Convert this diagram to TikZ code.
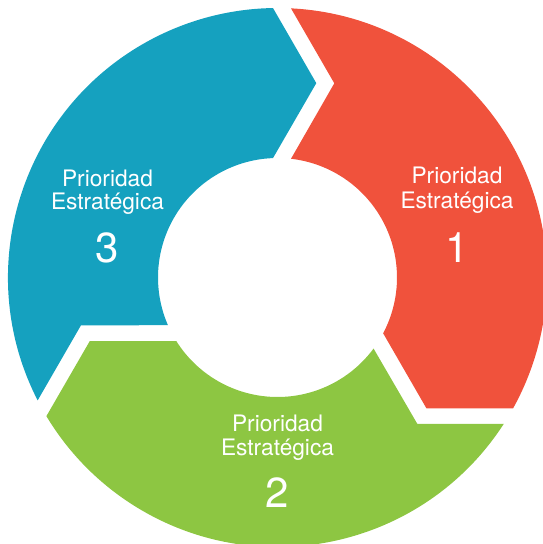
\documentclass[tikz,border=0pt]{standalone}
\usepackage{fontspec}
\setmainfont{TeX Gyre Heros}
\definecolor{segred}{HTML}{F0523C}
\definecolor{segblue}{HTML}{15A1BF}
\definecolor{seggreen}{HTML}{8DC642}
\newcommand{\ringseg}[2]{%
  \fill[#2, rotate=#1] (87.13:269.5) arc[start angle=87.13, end angle=-29.04, radius=269.5]
    -- (-41.29:198.2) -- (-27.84:119.5)
    arc[start angle=-27.84, end angle=83.51, radius=119.5]
    -- (56.8,194.2) -- cycle;}
\tikzset{
  lbl/.style={text=white, anchor=base, inner sep=0pt, font=\fontsize{22.7}{24}\selectfont},
  num/.style={text=white, anchor=base, inner sep=0pt, font=\fontsize{42}{44}\selectfont}
}
\begin{document}
\begin{tikzpicture}[x=1pt, y=1pt]
\useasboundingbox (-277.5,-266.5) rectangle (265.5,277.5);
\ringseg{0}{segred}
\ringseg{-120}{seggreen}
\ringseg{120}{segblue}
% red
\node[lbl] (r1) at (179.5,93.5) {Prioridad};
\node[lbl] (r2) at (179.5,68.5) {Estratégica};
\node[num] (r3) at (179.5,15.5) {1};
% blue
\node[lbl] (b1) at (-170,91.5) {Prioridad};
\node[lbl] (b2) at (-170,67.5) {Estratégica};
\node[num] (b3) at (-170,15.5) {3};
% green
\node[lbl] (g1) at (0,-153.5) {Prioridad};
\node[lbl] (g2) at (0,-177.5) {Estratégica};
\node[num] (g3) at (0,-229.5) {2};
\end{tikzpicture}
\end{document}
